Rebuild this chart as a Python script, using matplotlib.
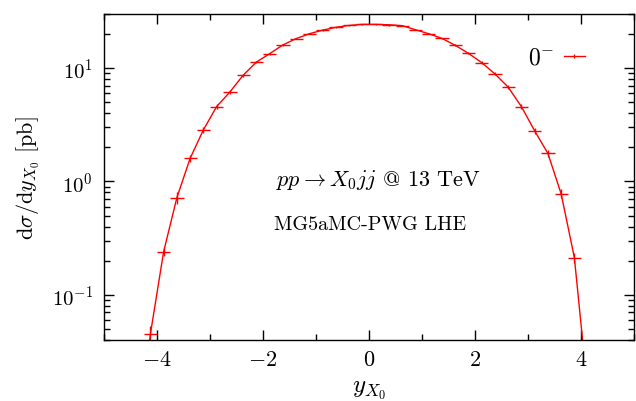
import matplotlib
matplotlib.use('Agg')
import matplotlib.pyplot as plt
from matplotlib.lines import Line2D
from matplotlib.ticker import LogLocator, MultipleLocator, NullFormatter

plt.rcParams['font.family'] = 'serif'
plt.rcParams['font.serif'] = ['cmr10']
plt.rcParams['mathtext.fontset'] = 'cm'
plt.rcParams['axes.formatter.use_mathtext'] = True

# bin centres (width 0.25) and dsigma/dy values
y_centres = [-4.375, -4.125, -3.875, -3.625, -3.375, -3.125, -2.875, -2.625,
             -2.375, -2.125, -1.875, -1.625, -1.375, -1.125, -0.875, -0.625,
             -0.375, -0.125, 0.125, 0.375, 0.625, 0.875, 1.125, 1.375,
             1.625, 1.875, 2.125, 2.375, 2.625, 2.875, 3.125, 3.375,
             3.625, 3.875, 4.125]
dsigma = [0.0045, 0.045, 0.24, 0.72, 1.60, 2.85, 4.58, 6.15,
          8.65, 11.3, 13.4, 16.0, 18.2, 20.1, 21.6, 22.9,
          23.8, 24.3, 24.3, 24.1, 23.7, 21.8, 20.1, 18.3,
          15.9, 13.5, 11.2, 8.9, 6.8, 4.58, 2.80, 1.77,
          0.78, 0.213, 0.0144]
rel_err = [0.30, 0.18, 0.09, 0.12, 0.08, 0.06, 0.05, 0.04,
           0.03, 0.025, 0.02, 0.02, 0.015, 0.015, 0.015, 0.015,
           0.015, 0.015, 0.015, 0.015, 0.015, 0.015, 0.015, 0.015,
           0.02, 0.02, 0.025, 0.03, 0.04, 0.05, 0.06, 0.07,
           0.09, 0.10, 0.30]
bin_half = 0.125

yerr = [v * e for v, e in zip(dsigma, rel_err)]

fig = plt.figure(figsize=(6.36, 4.02), dpi=100)
ax = fig.add_axes([104 / 636, 61 / 402, 530 / 636, 326 / 402])

ax.plot(y_centres, dsigma, color='red', lw=1.0)
ax.errorbar(y_centres, dsigma, xerr=bin_half, yerr=yerr, fmt='none',
            ecolor='red', elinewidth=1.0, capsize=0)

ax.set_yscale('log')
ax.set_xlim(-5, 5)
ax.set_ylim(0.04, 30)

ax.xaxis.set_major_locator(MultipleLocator(2))
ax.xaxis.set_minor_locator(MultipleLocator(1))
ax.yaxis.set_major_locator(LogLocator(base=10))
ax.yaxis.set_minor_locator(LogLocator(base=10, subs=range(2, 10)))
ax.yaxis.set_minor_formatter(NullFormatter())
ax.tick_params(which='both', direction='in', top=True, right=True,
               width=1.0)
ax.tick_params(axis='x', labelsize=16, pad=7)
ax.tick_params(axis='y', labelsize=15, pad=8)
ax.tick_params(which='major', length=7)
ax.tick_params(which='minor', length=4)
for s in ax.spines.values():
    s.set_linewidth(1.0)

ax.set_xlabel(r'$y_{X_0}$', fontsize=18, labelpad=6)
ax.set_ylabel(r'$\mathrm{d}\sigma/\mathrm{d}y_{X_0}$ [pb]', fontsize=16,
              labelpad=7)

ax.text(0.17, 1.06, r'$pp \rightarrow X_0jj$ @ 13 TeV', fontsize=16,
        ha='center', va='center')
ax.text(0.02, 0.418, 'MG5aMC-PWG LHE', fontsize=14.5,
        ha='center', va='center')

handle = Line2D([], [], color='red', lw=1.0, marker='|', markersize=3,
                markeredgewidth=1.0)
ax.legend([handle], [r'$0^{-}$'], loc='upper right', frameon=False,
          fontsize=17, markerfirst=False, handlelength=0.9, numpoints=1,
          handletextpad=0.4, bbox_to_anchor=(0.9475, 0.965))

fig.savefig('out.png', dpi=100)
